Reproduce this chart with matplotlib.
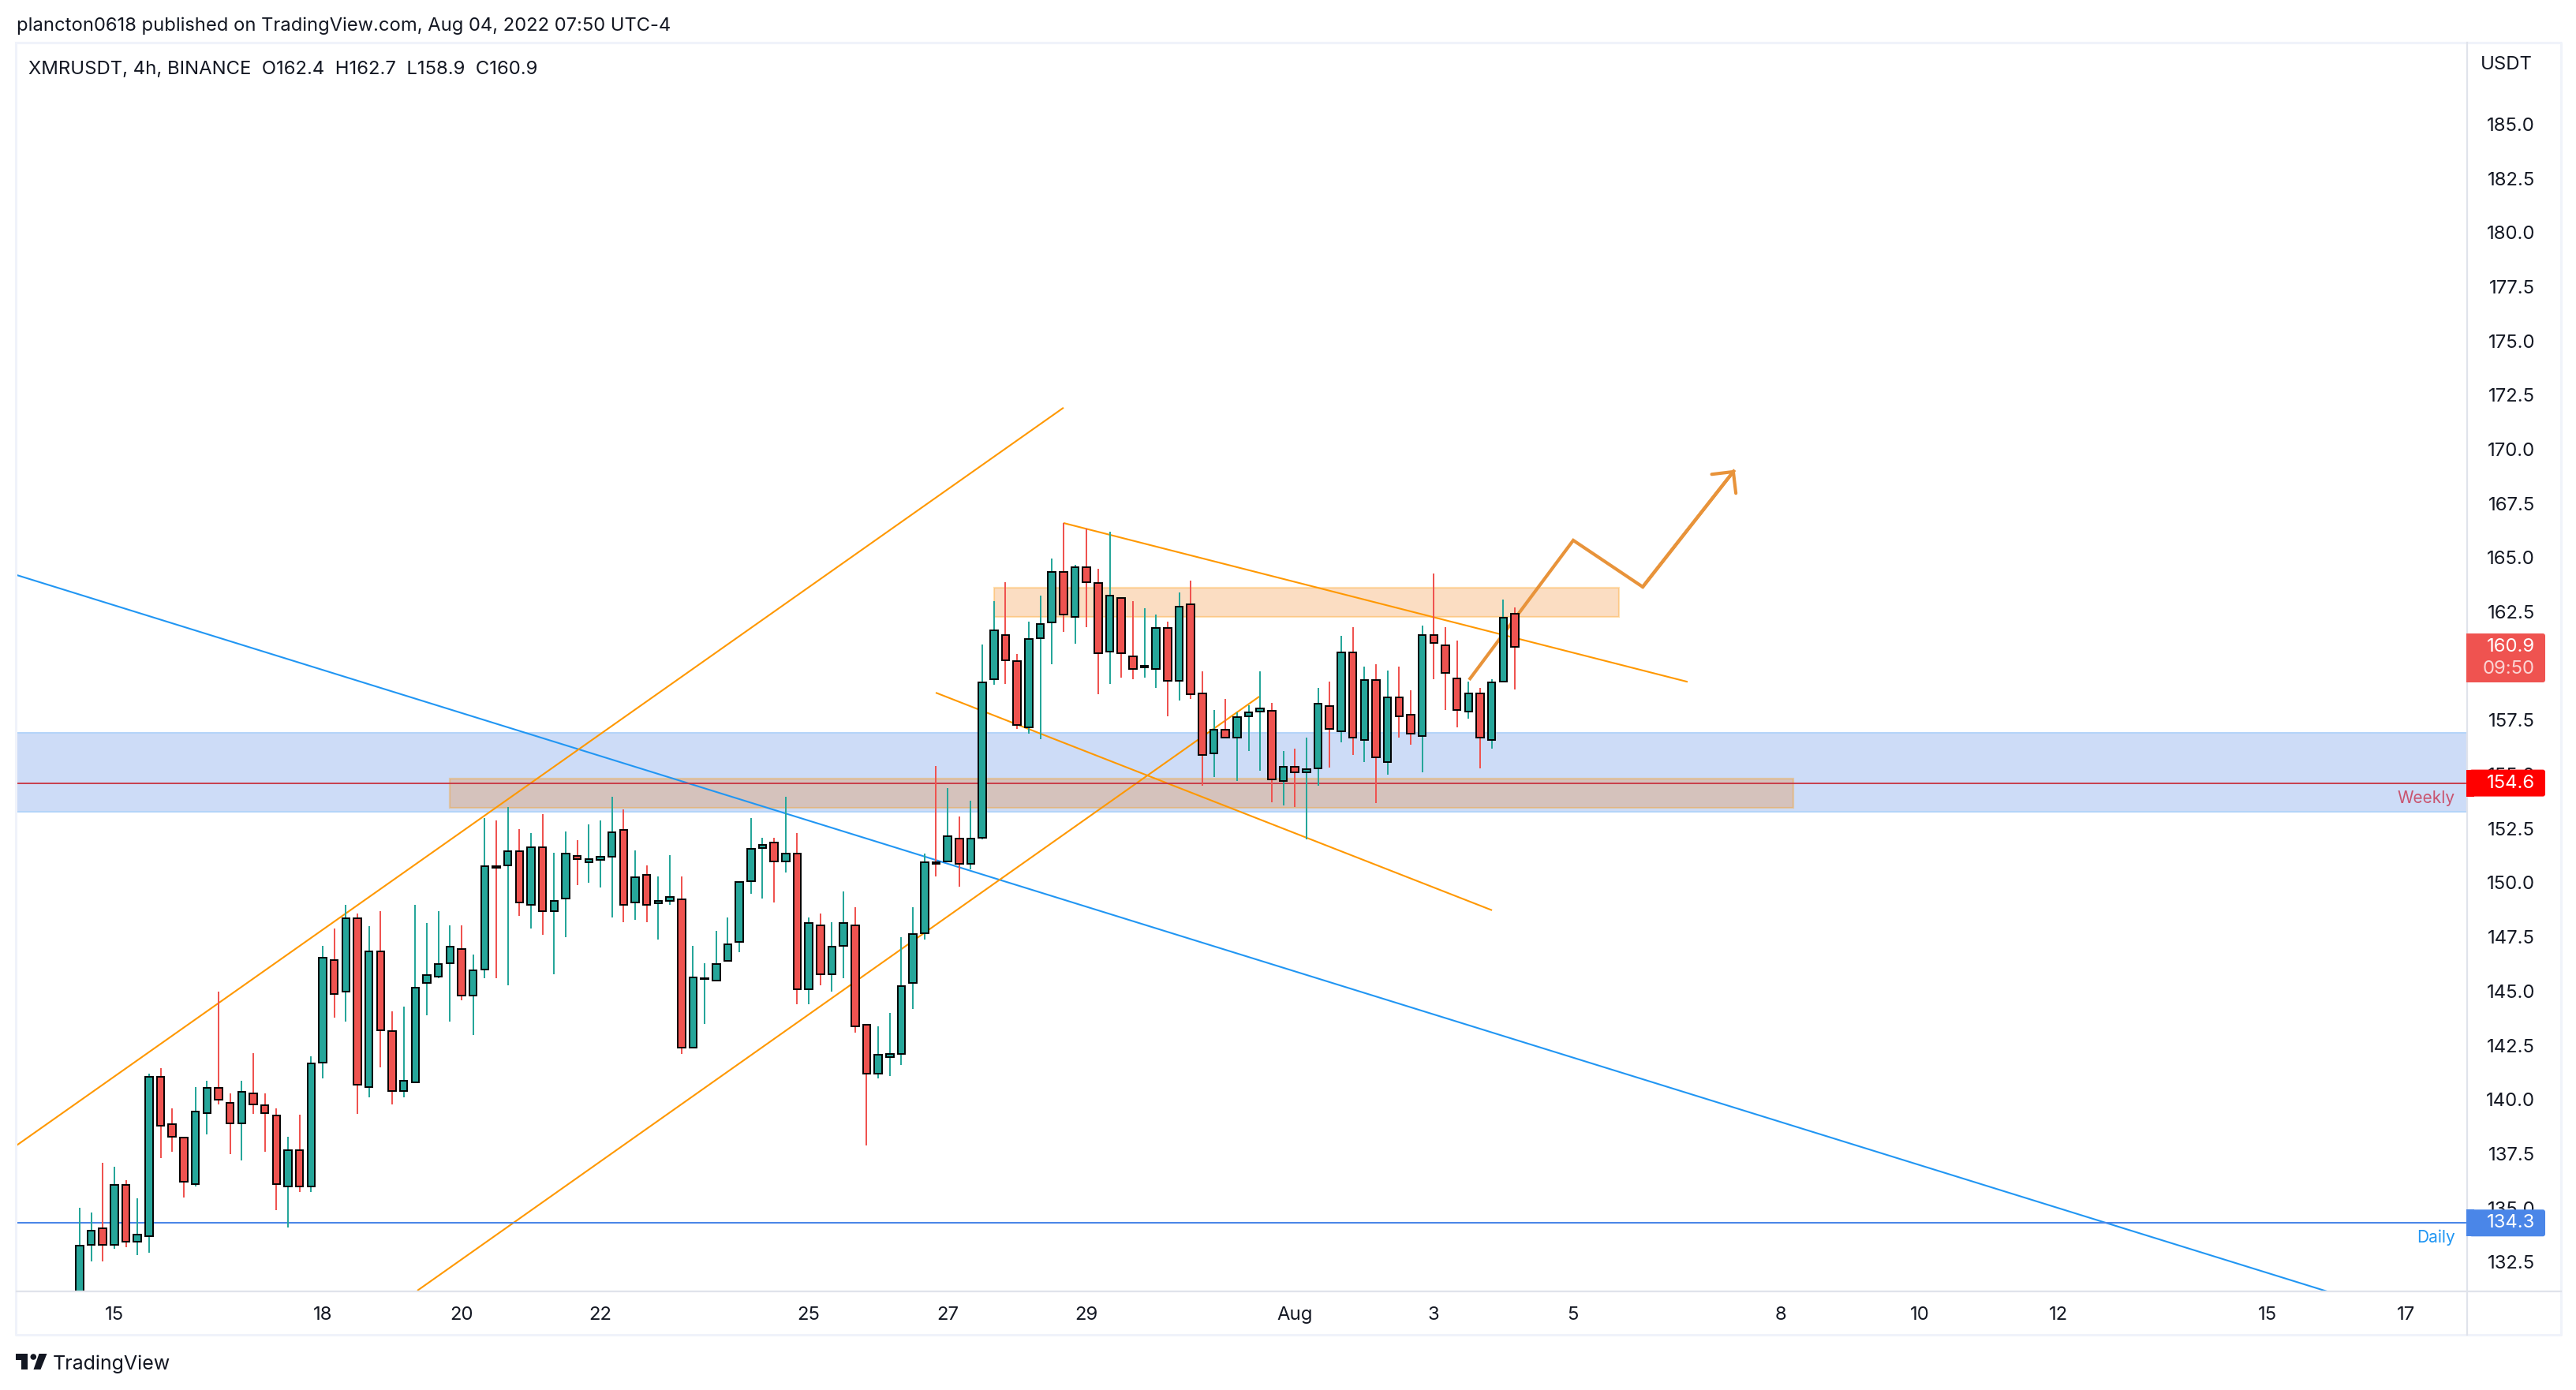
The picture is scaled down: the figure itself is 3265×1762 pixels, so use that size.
import numpy as np
import matplotlib
matplotlib.use("Agg")
import matplotlib.pyplot as plt
from matplotlib.patches import Rectangle, FancyBboxPatch, Polygon, Circle

plt.rcParams["font.family"] = ["Inter", "DejaVu Sans"]

W, H = 3266, 1762

#%% ---------------------------------------------------------------
# Candles, 4h bars

opens = [130.00, 133.30, 134.06, 133.30, 136.07, 133.42, 133.69, 141.05, 138.87, 138.24,
         136.08, 139.36, 140.54, 139.85, 138.89, 140.27, 139.74, 139.27, 135.99, 137.66,
         135.99, 141.69, 146.44, 144.97, 148.37, 140.57, 146.84, 143.16, 140.39, 140.79,
         145.37, 145.66, 146.29, 146.95, 144.80, 145.98, 150.78, 150.80, 151.47, 148.98,
         151.65, 148.69, 149.26, 151.25, 150.96, 151.07, 151.20, 152.45, 149.09, 150.37,
         149.06, 149.18, 149.25, 142.39, 145.55, 145.47, 146.39, 147.26, 150.06, 151.59,
         151.85, 150.98, 151.36, 145.08, 148.04, 145.78, 147.09, 148.04, 143.46, 141.19,
         141.97, 142.10, 145.39, 147.66, 150.95, 150.99, 152.03, 150.87, 152.08, 159.38,
         161.42, 160.22, 157.17, 161.28, 162.00, 164.34, 162.28, 164.56, 163.84, 160.66,
         163.13, 160.44, 159.92, 159.88, 161.76, 159.31, 162.85, 158.73, 155.96, 157.06,
         156.71, 157.67, 157.89, 157.93, 154.70, 155.35, 155.08, 155.28, 158.15, 157.00,
         160.63, 156.59, 159.35, 155.57, 158.55, 157.75, 156.77, 161.43, 160.95, 159.43,
         157.90, 158.73, 156.59, 159.28, 162.40]
highs = [135.00, 134.78, 137.08, 136.90, 136.28, 135.45, 141.18, 141.46, 139.58, 138.24,
         140.57, 140.88, 144.97, 140.27, 140.88, 142.15, 140.27, 139.58, 138.27, 139.28,
         141.98, 147.07, 147.88, 148.97, 148.57, 148.00, 148.68, 144.08, 144.28, 148.97,
         148.16, 148.68, 148.05, 148.05, 146.67, 152.97, 152.88, 153.49, 152.47, 152.29,
         153.16, 151.38, 152.36, 151.96, 152.69, 152.88, 153.97, 153.38, 151.49, 150.80,
         150.28, 151.27, 150.28, 147.09, 146.28, 147.78, 148.40, 150.05, 152.97, 152.06,
         152.06, 153.97, 152.29, 148.40, 148.58, 148.18, 149.60, 148.87, 143.46, 143.37,
         143.99, 147.49, 148.87, 151.36, 155.37, 154.35, 153.07, 153.77, 160.98, 162.98,
         163.88, 160.57, 162.06, 163.26, 164.97, 166.59, 164.66, 166.36, 164.47, 166.18,
         163.13, 162.98, 162.65, 162.37, 162.06, 163.39, 163.95, 159.77, 157.97, 158.47,
         157.88, 158.19, 159.77, 158.30, 156.07, 156.19, 156.70, 158.99, 159.28, 161.39,
         161.79, 159.97, 160.08, 159.79, 159.97, 158.88, 161.87, 164.27, 161.79, 161.17,
         159.28, 158.99, 159.39, 163.07, 162.70]
lows = [129.50, 132.52, 132.52, 133.10, 133.19, 132.80, 132.91, 137.31, 137.60, 135.48,
        135.99, 138.40, 139.78, 137.48, 137.20, 139.32, 137.60, 134.90, 134.11, 135.72,
        135.72, 140.99, 143.79, 143.61, 139.32, 140.10, 141.49, 139.78, 140.10, 140.79,
        143.88, 145.60, 143.61, 144.59, 142.99, 145.61, 145.61, 145.28, 148.48, 147.90,
        147.60, 145.78, 147.49, 149.89, 150.00, 149.78, 148.41, 148.18, 148.29, 148.18,
        147.39, 148.98, 142.10, 142.39, 143.48, 145.47, 146.39, 146.79, 149.50, 149.28,
        149.10, 150.48, 144.40, 144.40, 145.28, 144.99, 145.61, 143.09, 137.88, 140.98,
        141.08, 141.59, 144.19, 147.38, 150.30, 150.99, 149.80, 150.60, 151.99, 159.12,
        159.18, 157.10, 156.89, 156.61, 160.10, 161.59, 161.02, 161.81, 158.71, 159.19,
        159.45, 159.40, 159.45, 158.99, 157.69, 158.40, 158.47, 154.48, 154.87, 156.71,
        154.70, 156.07, 155.18, 153.70, 153.57, 153.50, 151.99, 154.49, 155.30, 156.49,
        155.91, 155.57, 153.69, 155.00, 156.70, 156.37, 155.09, 159.39, 157.97, 157.17,
        157.57, 155.28, 156.19, 159.28, 158.90]
closes = [133.25, 133.94, 133.30, 136.07, 133.42, 133.77, 141.05, 138.78, 138.27, 136.19,
          139.45, 140.54, 139.99, 138.89, 140.36, 139.76, 139.38, 136.08, 137.66, 135.99,
          141.67, 146.53, 144.86, 148.37, 140.68, 146.84, 143.19, 140.39, 140.86, 145.17,
          145.75, 146.26, 147.05, 144.80, 145.96, 150.78, 150.69, 151.47, 149.09, 151.65,
          148.69, 149.17, 151.36, 151.08, 151.08, 151.19, 152.34, 148.98, 150.26, 148.98,
          149.18, 149.35, 142.39, 145.64, 145.61, 146.26, 147.17, 150.05, 151.58, 151.76,
          150.98, 151.36, 145.08, 148.14, 145.78, 147.06, 148.14, 143.37, 141.19, 142.07,
          142.09, 145.24, 147.64, 150.95, 150.88, 152.14, 150.87, 152.03, 159.25, 161.65,
          160.27, 157.28, 161.24, 161.94, 164.34, 162.37, 164.56, 163.88, 160.61, 163.24,
          160.61, 159.88, 160.01, 161.76, 159.31, 162.74, 158.71, 155.89, 157.06, 156.71,
          157.63, 157.86, 158.04, 154.77, 155.35, 155.09, 155.25, 158.26, 157.10, 160.63,
          156.70, 159.35, 155.78, 158.55, 157.68, 156.88, 161.43, 161.07, 159.68, 157.97,
          158.73, 156.70, 159.24, 162.23, 160.90]

price_ticks = [132.5, 135.0, 137.5, 140.0, 142.5, 145.0, 147.5, 150.0, 152.5, 155.0, 157.5,
               160.0, 162.5, 165.0, 167.5, 170.0, 172.5, 175.0, 177.5, 180.0, 182.5, 185.0]
date_bars = [3, 21, 33, 45, 63, 75, 87, 105, 117, 129, 147, 159, 171, 189, 201]
date_labels = ["15", "18", "20", "22", "25", "27", "29", "Aug", "3", "5", "8", "10", "12", "15", "17"]

# Drawings, (bar, price) end points
blue_trend = [(-5.45, 164.2), (194.2, 131.14)]
channel_top = [(-5.5, 137.86), (85.01, 171.92)]
channel_bottom = [(29.18, 131.18), (101.92, 158.59)]
flag_top = [(85.0, 166.6), (138.93, 159.27)]
flag_bottom = [(73.97, 158.77), (122.03, 148.73)]
path_bars = [120.05, 129.05, 135.05, 143.0]
path_prices = [159.36, 165.80, 163.65, 169.05]

daily_level = 134.3
weekly_level = 154.6
last_close = 160.9
blue_zone = (153.28, 156.92)
supply_zone = (1260, 2052, 162.27, 163.62)
demand_zone = (570, 2273, 153.46, 154.82)

GREEN, RED = "#26a69a", "#ef5350"
ORANGE, BLUE = "#ff9800", "#2196f3"
TEXT = "#131722"
FS = 17.2

#%% ---------------------------------------------------------------
# Figure and price pane

fig = plt.figure(figsize=(W / 100, H / 100), dpi=100, facecolor="white")
left, right, top, bottom = 21, 3127, 55, 1636
ax = fig.add_axes([left / W, 1 - bottom / H, (right - left) / W, (bottom - top) / H])
ax.set_xlim((left - 100.9) / 14.67, (right - 100.9) / 14.67)
ax.set_ylim(131.18, 188.73)
for s in ax.spines.values():
    s.set_visible(False)


def px_to_bar(x):
    return (x - 100.9) / 14.67


# zones
ax.axhspan(*blue_zone, fc="#cddcf7", ec="#b3d4f9", lw=1.4, zorder=1)
for x0, x1, p0, p1 in [supply_zone, demand_zone]:
    ax.add_patch(Rectangle((px_to_bar(x0), p0), px_to_bar(x1) - px_to_bar(x0), p1 - p0,
                           fc=(0.94, 0.47, 0.05, 0.25), ec=(1.0, 0.6, 0.0, 0.3), lw=1.6, zorder=2))

# trend lines
for pts, col in [(blue_trend, BLUE), (channel_top, ORANGE), (channel_bottom, ORANGE),
                 (flag_top, ORANGE), (flag_bottom, ORANGE)]:
    xs, ys = zip(*pts)
    ax.plot(xs, ys, color=col, lw=1.5, zorder=3, solid_capstyle="butt")

ax.axhline(weekly_level, color="#c8323f", lw=1.3, zorder=3)
ax.axhline(daily_level, color="#4a86e8", lw=1.5, zorder=3)

# projected path
ax.plot(path_bars, path_prices, color="#e8933a", lw=3.0, zorder=3,
        solid_joinstyle="miter", solid_capstyle="butt")
ax.annotate("", xy=(path_bars[3], path_prices[3]), xytext=(path_bars[2], path_prices[2]),
            arrowprops=dict(arrowstyle="->,head_length=1.0,head_width=1.0", mutation_scale=14,
                            color="#e8933a", lw=3.0, shrinkA=0, shrinkB=0), zorder=3)

# candles
bars = np.arange(len(opens))
o, h, l, c = map(np.array, (opens, highs, lows, closes))
cols = np.where(c >= o, GREEN, RED)
ax.vlines(bars, l, h, colors=cols, lw=1.44, zorder=4)
ax.bar(bars, np.abs(c - o), bottom=np.minimum(o, c), width=0.65, color=cols,
       edgecolor="black", linewidth=1.4, zorder=5)

# axes labels
ax.set_yticks(price_ticks)
ax.set_yticklabels([f"{p:.1f}" for p in price_ticks])
ax.yaxis.tick_right()
ax.tick_params(axis="y", length=0, pad=62, labelsize=FS, labelcolor=TEXT)
for t in ax.get_yticklabels():
    t.set_ha("right")
ax.set_xticks(date_bars)
ax.set_xticklabels(date_labels)
ax.tick_params(axis="x", length=0, pad=22.5, labelsize=FS, labelcolor=TEXT)
for t in ax.get_xticklabels():
    t.set_va("center")

#%% ---------------------------------------------------------------
# Chrome on top, in pixel coordinates

ov = fig.add_axes([0, 0, 1, 1], zorder=10)
ov.set_xlim(0, W)
ov.set_ylim(H, 0)
ov.axis("off")

border, sep = "#f0f3fa", "#e0e3eb"
ov.plot([20, 3246, 3246, 20, 20], [54, 54, 1692, 1692, 54], color=border, lw=2.2, zorder=1)
ov.plot([21, 3246], [1637, 1637], color=sep, lw=1.6, zorder=1)
ov.plot([3127, 3127], [54, 1692], color=sep, lw=1.6, zorder=1)


def price_y(p):
    return ov.transData.inverted().transform(ax.transData.transform((0, p)))[1]


def badge(y0, y1, col):
    ov.add_patch(FancyBboxPatch((3130, y0), 96, y1 - y0, boxstyle="round,pad=0,rounding_size=3",
                                fc=col, ec="none", zorder=3))
    ov.add_patch(Rectangle((3126, y0), 10, y1 - y0, fc=col, ec="none", zorder=3))


badge(803, 865, RED)
ov.text(3213, 820, f"{last_close:.1f}", color="white", ha="right", va="center", fontsize=FS, zorder=4)
ov.text(3213, 848, "09:50", color="#fbd5d4", ha="right", va="center", fontsize=FS, zorder=4)

y_w = price_y(weekly_level)
badge(y_w - 17, y_w + 17, "#ff0000")
ov.text(3213, y_w, f"{weekly_level:.1f}", color="white", ha="right", va="center", fontsize=FS, zorder=4)
ov.text(3112, y_w + 19, "Weekly", color="#c9546f", ha="right", va="center", fontsize=15, zorder=4)

y_d = price_y(daily_level)
badge(y_d - 17, y_d + 17, "#4a86e8")
ov.text(3213, y_d, f"{daily_level:.1f}", color="white", ha="right", va="center", fontsize=FS, zorder=4)
ov.text(3112, y_d + 18, "Daily", color=BLUE, ha="right", va="center", fontsize=15, zorder=4)

ov.text(3210, 82, "USDT", color=TEXT, ha="right", va="center", fontsize=FS)
ov.text(21, 33, "plancton0618 published on TradingView.com, Aug 04, 2022 07:50 UTC-4",
        color=TEXT, ha="left", va="center", fontsize=17.1)
ov.text(36, 88, "XMRUSDT, 4h, BINANCE  O162.4  H162.7  L158.9  C160.9",
        color=TEXT, ha="left", va="center", fontsize=17.2)

# logo
ov.add_patch(Polygon([(20, 1716), (35.5, 1716), (35.5, 1736), (27.5, 1736), (27.5, 1724), (20, 1724)],
                     fc=TEXT, ec="none"))
ov.add_patch(Circle((42.3, 1720), 3.8, fc=TEXT, ec="none"))
ov.add_patch(Polygon([(49.5, 1716), (59.5, 1716), (51.5, 1736), (42.5, 1736)], fc=TEXT, ec="none"))
ov.text(67, 1729, "TradingView", color=TEXT, ha="left", va="center", fontsize=18)

fig.savefig("out.png", dpi=100, facecolor="white")
